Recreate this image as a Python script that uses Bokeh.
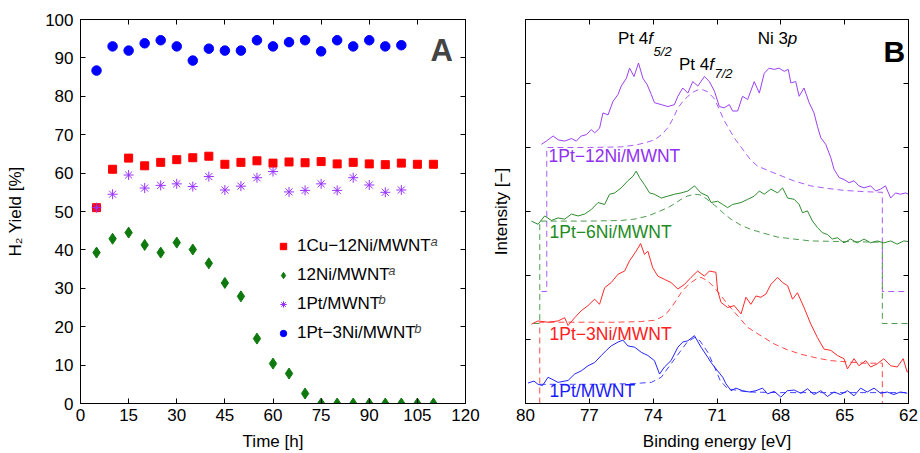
from bokeh.plotting import figure
from bokeh.models import (Range1d, LinearAxis, FixedTicker, Legend, LegendItem, Label,
                          CustomLabelingPolicy)
from bokeh.layouts import row
from bokeh.embed import file_html
from bokeh.resources import INLINE

FONT = "Liberation Sans"

# ---------------- Panel A data ----------------
time_cu = [5, 10, 15, 20, 25, 30, 35, 40, 45, 50, 55, 60, 65, 70, 75, 80, 85, 90, 95, 100, 105, 110]
yield_cu12ni = [51.0, 61.0, 63.9, 61.9, 62.8, 63.5, 64.0, 64.4, 62.3, 62.8, 63.2, 62.6, 62.9, 62.7,
                63.0, 62.4, 62.8, 62.4, 62.2, 62.6, 62.3, 62.3]
time_ni = [5, 10, 15, 20, 25, 30, 35, 40, 45, 50, 55, 60, 65, 70, 75, 80, 85, 90, 95, 100, 105, 110]
yield_12ni = [39.3, 42.9, 44.5, 41.3, 39.3, 41.9, 40.1, 36.5, 31.4, 27.9, 16.9, 10.4, 7.8, 2.6,
              0.0, 0.0, 0.0, 0.0, 0.0, 0.0, 0.0, 0.0]
time_pt = [5, 10, 15, 20, 25, 30, 35, 40, 45, 50, 55, 60, 65, 70, 75, 80, 85, 90, 95, 100]
yield_1pt = [51.0, 54.5, 59.5, 56.1, 56.8, 57.2, 56.5, 59.1, 55.6, 56.6, 58.8, 60.4, 55.1, 55.5,
             57.2, 55.5, 58.8, 56.9, 55.0, 55.6]
time_ptni = [5, 10, 15, 20, 25, 30, 35, 40, 45, 50, 55, 60, 65, 70, 75, 80, 85, 90, 95, 100]
yield_1pt3ni = [86.7, 93.0, 91.9, 93.8, 94.6, 93.0, 89.3, 92.4, 91.9, 91.9, 94.6, 93.0, 94.1, 94.6,
                91.7, 94.6, 93.0, 94.6, 93.0, 93.3]
a_xticks = [0, 15, 30, 45, 60, 75, 90, 105, 120]
a_yticks = [0, 10, 20, 30, 40, 50, 60, 70, 80, 90, 100]
a_labels = ["1Cu\u221212Ni/MWNT", "12Ni/MWNT", "1Pt/MWNT", "1Pt\u22123Ni/MWNT"]
a_notes = ["a", "a", "b", "b"]

# ---------------- Panel B data (binding energy eV, intensity a.u.) ----------------
e_12ni = [79.25, 79.02, 78.70, 78.47, 78.16, 77.84, 77.61, 77.38, 77.14, 76.91, 76.75, 76.52, 76.36,
          76.12, 75.89, 75.65, 75.50, 75.26, 75.11, 74.90, 74.69, 74.48, 74.28, 74.09, 73.94, 73.62,
          73.31, 73.00, 72.84, 72.61, 72.37, 72.14, 71.90, 71.59, 71.36, 71.12, 70.89, 70.66, 70.42,
          70.27, 70.03, 69.80, 69.56, 69.25, 69.01, 68.78, 68.55, 68.31, 68.08, 67.84, 67.65, 67.53,
          67.30, 67.14, 66.91, 66.67, 66.44, 66.28, 66.12, 65.89, 65.65, 65.50, 65.26, 65.03, 64.79,
          64.56, 64.33, 64.09, 63.78, 63.54, 63.31, 63.08, 62.84, 62.61, 62.38, 62.14, 62.00]
i_12ni = [4.05, 4.10, 4.18, 4.12, 4.10, 4.14, 4.10, 4.18, 4.20, 4.28, 4.23, 4.30, 4.54,
          4.51, 4.72, 4.83, 4.96, 5.08, 5.24, 5.11, 5.32, 5.08, 4.98, 4.83, 4.70, 4.67,
          4.64, 4.67, 4.80, 4.93, 4.85, 5.03, 4.96, 5.11, 5.03, 4.88, 4.64, 4.62, 4.67,
          4.57, 4.57, 4.80, 4.75, 5.03, 4.85, 5.16, 5.24, 5.22, 5.24, 5.19, 5.22, 5.01,
          5.03, 4.80, 4.93, 4.70, 4.54, 4.33, 4.15, 4.05, 3.84, 3.66, 3.53, 3.50, 3.45,
          3.48, 3.40, 3.37, 3.40, 3.32, 3.35, 3.40, 3.21, 3.29, 3.27, 3.29, 3.27]
fe_12ni = [79.25, 79.00, 79.00, 77.00, 75.50, 74.80, 74.30, 73.94, 73.60, 73.31, 73.05, 72.84, 72.60,
           72.37, 72.10, 71.90, 71.65, 71.43, 71.12, 70.90, 70.66, 70.19, 69.72, 69.41, 69.09, 68.60,
           68.15, 67.40, 66.59, 65.80, 65.03, 64.10, 63.23, 63.23, 62.00]
fi_12ni = [1.75, 1.75, 4.00, 4.00, 4.01, 4.04, 4.08, 4.12, 4.20, 4.31, 4.46, 4.62, 4.72,
           4.80, 4.87, 4.90, 4.90, 4.87, 4.76, 4.60, 4.42, 4.15, 3.94, 3.80, 3.71, 3.64,
           3.58, 3.48, 3.40, 3.36, 3.33, 3.31, 3.30, 1.75, 1.75]

e_6ni = [79.72, 79.41, 79.10, 78.78, 78.47, 78.16, 77.84, 77.53, 77.22, 76.91, 76.59, 76.28, 76.05,
         75.81, 75.50, 75.19, 74.95, 74.80, 74.64, 74.41, 74.17, 73.94, 73.62, 73.31, 73.00, 72.69,
         72.37, 72.06, 71.75, 71.43, 71.28, 70.97, 70.73, 70.50, 70.27, 69.87, 69.56, 69.25, 69.01,
         68.78, 68.47, 68.15, 67.92, 67.68, 67.37, 67.14, 66.98, 66.75, 66.51, 66.28, 66.05, 65.81,
         65.58, 65.34, 65.03, 64.72, 64.41, 64.09, 63.78, 63.47, 63.16, 62.84, 62.53, 62.22, 62.00]
i_6ni = [2.85, 2.80, 2.93, 2.86, 2.90, 2.88, 2.96, 2.93, 2.96, 3.03, 3.14, 3.11, 3.27,
         3.29, 3.37, 3.48, 3.55, 3.63, 3.53, 3.42, 3.29, 3.27, 3.21, 3.24, 3.27, 3.29,
         3.32, 3.40, 3.29, 3.24, 3.14, 3.16, 3.11, 3.06, 3.11, 3.14, 3.19, 3.24, 3.32,
         3.27, 3.35, 3.29, 3.37, 3.21, 3.19, 3.11, 2.98, 3.01, 2.85, 2.75, 2.67, 2.64,
         2.57, 2.59, 2.51, 2.57, 2.51, 2.57, 2.51, 2.54, 2.51, 2.54, 2.49, 2.54, 2.53]
fe_6ni = [79.64, 79.33, 79.33, 77.00, 75.50, 74.90, 74.25, 73.80, 73.31, 73.00, 72.69, 72.40, 72.06,
          71.80, 71.50, 71.20, 70.97, 70.65, 70.34, 69.90, 69.41, 68.80, 68.15, 67.40, 66.59, 65.03,
          63.23, 63.23, 62.00]
fi_6ni = [1.25, 1.25, 2.85, 2.85, 2.86, 2.88, 2.93, 2.99, 3.06, 3.12, 3.19, 3.24, 3.27,
          3.26, 3.20, 3.12, 3.06, 2.96, 2.88, 2.79, 2.72, 2.66, 2.60, 2.57, 2.54, 2.53,
          2.52, 1.25, 1.25]

e_3ni = [79.72, 79.41, 78.94, 78.47, 78.16, 78.00, 77.69, 77.38, 77.06, 76.75, 76.52, 76.28, 75.97,
         75.65, 75.34, 75.11, 74.80, 74.59, 74.41, 74.25, 74.02, 73.78, 73.47, 73.16, 72.84, 72.53,
         72.22, 71.91, 71.59, 71.36, 71.05, 70.97, 70.81, 70.50, 70.19, 69.87, 69.64, 69.41, 69.17,
         68.94, 68.70, 68.47, 68.15, 67.92, 67.68, 67.45, 67.22, 66.91, 66.59, 66.28, 65.97, 65.65,
         65.34, 65.03, 64.87, 64.56, 64.33, 64.01, 63.78, 63.47, 63.16, 62.84, 62.53, 62.25, 62.06,
         62.00]
i_3ni = [1.24, 1.29, 1.27, 1.29, 1.34, 1.22, 1.34, 1.45, 1.53, 1.63, 1.55, 1.81, 1.89,
         2.02, 2.07, 2.23, 2.38, 2.50, 2.33, 2.38, 2.12, 1.99, 1.94, 1.89, 1.79, 1.86,
         1.97, 2.07, 1.99, 2.07, 2.05, 1.76, 1.58, 1.50, 1.53, 1.40, 1.66, 1.55, 1.68,
         1.66, 1.71, 1.86, 1.97, 1.89, 1.84, 1.63, 1.73, 1.50, 1.24, 1.03, 0.85, 0.83,
         0.75, 0.70, 0.54, 0.70, 0.59, 0.67, 0.57, 0.62, 0.70, 0.59, 0.57, 0.70, 0.49,
         0.51]
fe_3ni = [79.33, 79.33, 77.00, 75.81, 74.60, 73.94, 73.60, 73.31, 73.00, 72.69, 72.45, 72.22, 71.95,
          71.75, 71.45, 71.12, 70.80, 70.50, 70.00, 69.56, 68.90, 68.31, 67.70, 67.06, 66.30, 65.65,
          64.90, 64.09, 63.23, 63.23]
fi_3ni = [0.00, 1.27, 1.27, 1.27, 1.28, 1.30, 1.35, 1.43, 1.57, 1.73, 1.82, 1.89, 1.95,
          1.97, 1.92, 1.81, 1.68, 1.55, 1.36, 1.19, 1.05, 0.93, 0.84, 0.77, 0.71, 0.67,
          0.65, 0.63, 0.63, 0.00]

e_pt = [79.88, 79.60, 79.41, 79.20, 78.94, 78.70, 78.47, 78.00, 77.69, 77.38, 77.06, 76.75, 76.44,
        76.20, 75.97, 75.65, 75.42, 75.19, 74.87, 74.56, 74.25, 73.94, 73.70, 73.47, 73.16, 72.84,
        72.61, 72.37, 72.06, 71.75, 71.43, 71.28, 70.97, 70.73, 70.58, 70.34, 70.11, 69.80, 69.48,
        69.17, 68.86, 68.62, 68.31, 68.00, 67.69, 67.37, 67.06, 66.75, 66.44, 66.12, 65.81, 65.50,
        65.19, 64.87, 64.56, 64.25, 63.94, 63.62, 63.31, 63.00, 62.69, 62.38, 62.06]
i_pt = [0.32, 0.35, 0.30, 0.28, 0.41, 0.37, 0.33, 0.36, 0.46, 0.51, 0.59, 0.64, 0.75,
        0.83, 0.90, 0.96, 0.99, 0.90, 0.88, 0.80, 0.75, 0.67, 0.46, 0.57, 0.67, 0.88,
        0.96, 0.98, 1.06, 0.88, 0.72, 0.64, 0.51, 0.41, 0.31, 0.20, 0.24, 0.20, 0.18,
        0.20, 0.24, 0.15, 0.19, 0.10, 0.20, 0.21, 0.16, 0.23, 0.14, 0.20, 0.11, 0.18,
        0.14, 0.20, 0.12, 0.24, 0.18, 0.24, 0.16, 0.18, 0.14, 0.18, 0.16]
fe_pt = [79.33, 77.00, 75.00, 74.09, 73.62, 73.16, 72.69, 72.40, 72.06, 71.80, 71.43, 71.12, 70.85,
         70.50, 69.56, 68.00, 66.00, 62.00]
fi_pt = [0.30, 0.30, 0.31, 0.33, 0.41, 0.62, 0.83, 0.96, 1.03, 0.98, 0.80, 0.57, 0.36,
         0.23, 0.18, 0.17, 0.17, 0.17]

b_xticks = [80, 77, 74, 71, 68, 65, 62]
b_yticks = [1, 2, 3, 4, 5]

C_PURPLE = "#9b40f2"
C_GREEN = "#2e8b2e"
C_RED = "#ff2a2a"
C_BLUE = "#2424ff"


def style_axis(ax, ticks):
    ax.ticker = FixedTicker(ticks=ticks)
    ax.major_tick_in = 5
    ax.major_tick_out = 0
    ax.minor_tick_line_color = None
    ax.axis_line_color = "black"
    ax.major_tick_line_color = "black"
    ax.major_label_text_font = FONT
    ax.major_label_text_font_size = "17px"
    ax.major_label_text_color = "black"
    ax.axis_label_text_font = FONT
    ax.axis_label_text_font_size = "17px"
    ax.axis_label_text_font_style = "normal"
    ax.axis_label_text_color = "black"


def hide_labels(ax):
    ax.major_label_text_font_size = "1px"
    ax.major_label_text_color = None
    ax.major_label_standoff = 0
    ax.major_label_policy = CustomLabelingPolicy(code="return new Set()")


def mirror(p, xt, yt):
    top = LinearAxis()
    right = LinearAxis()
    for ax, t in ((top, xt), (right, yt)):
        style_axis(ax, t)
        hide_labels(ax)
    p.add_layout(top, "above")
    p.add_layout(right, "right")


# ---------------- Panel A ----------------
pA = figure(width=488, height=453, x_range=Range1d(0, 120), y_range=Range1d(0, 100),
            output_backend="svg", toolbar_location=None,
            min_border_left=80, min_border_right=23, min_border_top=19, min_border_bottom=50)
pA.xgrid.visible = False
pA.ygrid.visible = False
pA.outline_line_color = "black"
style_axis(pA.xaxis[0], a_xticks)
style_axis(pA.yaxis[0], a_yticks)
pA.xaxis[0].axis_label = "Time [h]"
pA.yaxis[0].axis_label = "H\u2082 Yield [%]"
pA.xaxis[0].major_label_standoff = 5
pA.xaxis[0].axis_label_standoff = 8
pA.yaxis[0].major_label_standoff = 7
pA.yaxis[0].axis_label_standoff = 17
mirror(pA, a_xticks, a_yticks)

r_cu = pA.scatter(time_cu, yield_cu12ni, marker="square", size=8, color="#ff0000")
r_ni = pA.scatter(time_ni, yield_12ni, marker="diamond", size=11, color="#0e7a0e")
r_pt = pA.scatter(time_pt, yield_1pt, marker="asterisk", size=10, line_color="#9933ff", line_width=1)
r_ptni = pA.scatter(time_ptni, yield_1pt3ni, marker="circle", size=9.5, color="#0000ff")

legend = Legend(items=[LegendItem(label=a_labels[0], renderers=[r_cu]),
                       LegendItem(label=a_labels[1], renderers=[r_ni]),
                       LegendItem(label=a_labels[2], renderers=[r_pt]),
                       LegendItem(label=a_labels[3], renderers=[r_ptni])],
                location=(195, 60), padding=0, margin=0, spacing=9,
                glyph_width=16, glyph_height=20, label_height=20, label_standoff=6,
                label_text_font=FONT, label_text_font_size="17px", label_text_color="black",
                background_fill_alpha=0, border_line_alpha=0)
pA.add_layout(legend)

# superscript notes after the legend labels (positions in data units of panel A)
note_x = [109.1, 95.9, 92.9, 104.0]
note_y = [42.3, 34.7, 27.2, 19.6]
for nx, ny, nt in zip(note_x, note_y, a_notes):
    pA.add_layout(Label(x=nx, y=ny, text=nt, text_font=FONT, text_font_size="13px",
                        text_font_style="italic", text_baseline="alphabetic"))

pA.add_layout(Label(x=109.1, y=91.9, text="A", text_font=FONT, text_font_size="31px",
                    text_font_style="bold", text_baseline="alphabetic"))

# ---------------- Panel B ----------------
pB = figure(width=432, height=453, x_range=Range1d(80, 62), y_range=Range1d(0, 6),
            output_backend="svg", toolbar_location=None,
            min_border_left=36, min_border_right=12, min_border_top=18, min_border_bottom=50)
pB.xgrid.visible = False
pB.ygrid.visible = False
pB.outline_line_color = "black"
style_axis(pB.xaxis[0], b_xticks)
style_axis(pB.yaxis[0], b_yticks)
pB.xaxis[0].axis_label = "Binding energy [eV]"
pB.yaxis[0].axis_label = "Intensity [\u2212]"
pB.xaxis[0].major_label_standoff = 5
pB.xaxis[0].axis_label_standoff = 8
hide_labels(pB.yaxis[0])
pB.yaxis[0].axis_label_standoff = 15
mirror(pB, b_xticks, b_yticks)

for e, i, fe, fi, c in ((e_12ni, i_12ni, fe_12ni, fi_12ni, C_PURPLE),
                        (e_6ni, i_6ni, fe_6ni, fi_6ni, C_GREEN),
                        (e_3ni, i_3ni, fe_3ni, fi_3ni, C_RED),
                        (e_pt, i_pt, fe_pt, fi_pt, C_BLUE)):
    pB.line(fe, fi, line_color=c, line_width=1, line_dash="6 4", line_alpha=0.85)
    pB.line(e, i, line_color=c, line_width=1)


def blabel(x, y, text, size="17px", style="normal", color="black", baseline="alphabetic"):
    pB.add_layout(Label(x=x, y=y, text=text, text_font=FONT, text_font_size=size,
                        text_font_style=style, text_color=color, text_baseline=baseline))


blabel(75.65, 5.70, "Pt 4")
blabel(74.23, 5.70, "f", style="italic")
blabel(73.98, 5.50, "5/2", size="13px", style="italic")
blabel(72.79, 5.30, "Pt 4")
blabel(71.37, 5.30, "f", style="italic")
blabel(71.12, 5.16, "7/2", size="13px", style="italic")
blabel(69.09, 5.70, "Ni 3")
blabel(67.67, 5.70, "p", style="italic")
blabel(63.17, 5.50, "B", size="30px", style="bold")

blabel(78.92, 3.86, "1Pt\u221212Ni/MWNT", size="17.5px", color="#9030f0", baseline="middle")
blabel(78.87, 2.68, "1Pt\u22126Ni/MWNT", size="17.5px", color="#228b22", baseline="middle")
blabel(78.87, 1.09, "1Pt\u22123Ni/MWNT", size="17.5px", color="#ff2020", baseline="middle")
blabel(78.87, 0.20, "1Pt/MWNT", size="17.5px", color="#1a1aff", baseline="middle")

layout = row(pA, pB)
open("out.html", "w").write(file_html(layout, INLINE))
